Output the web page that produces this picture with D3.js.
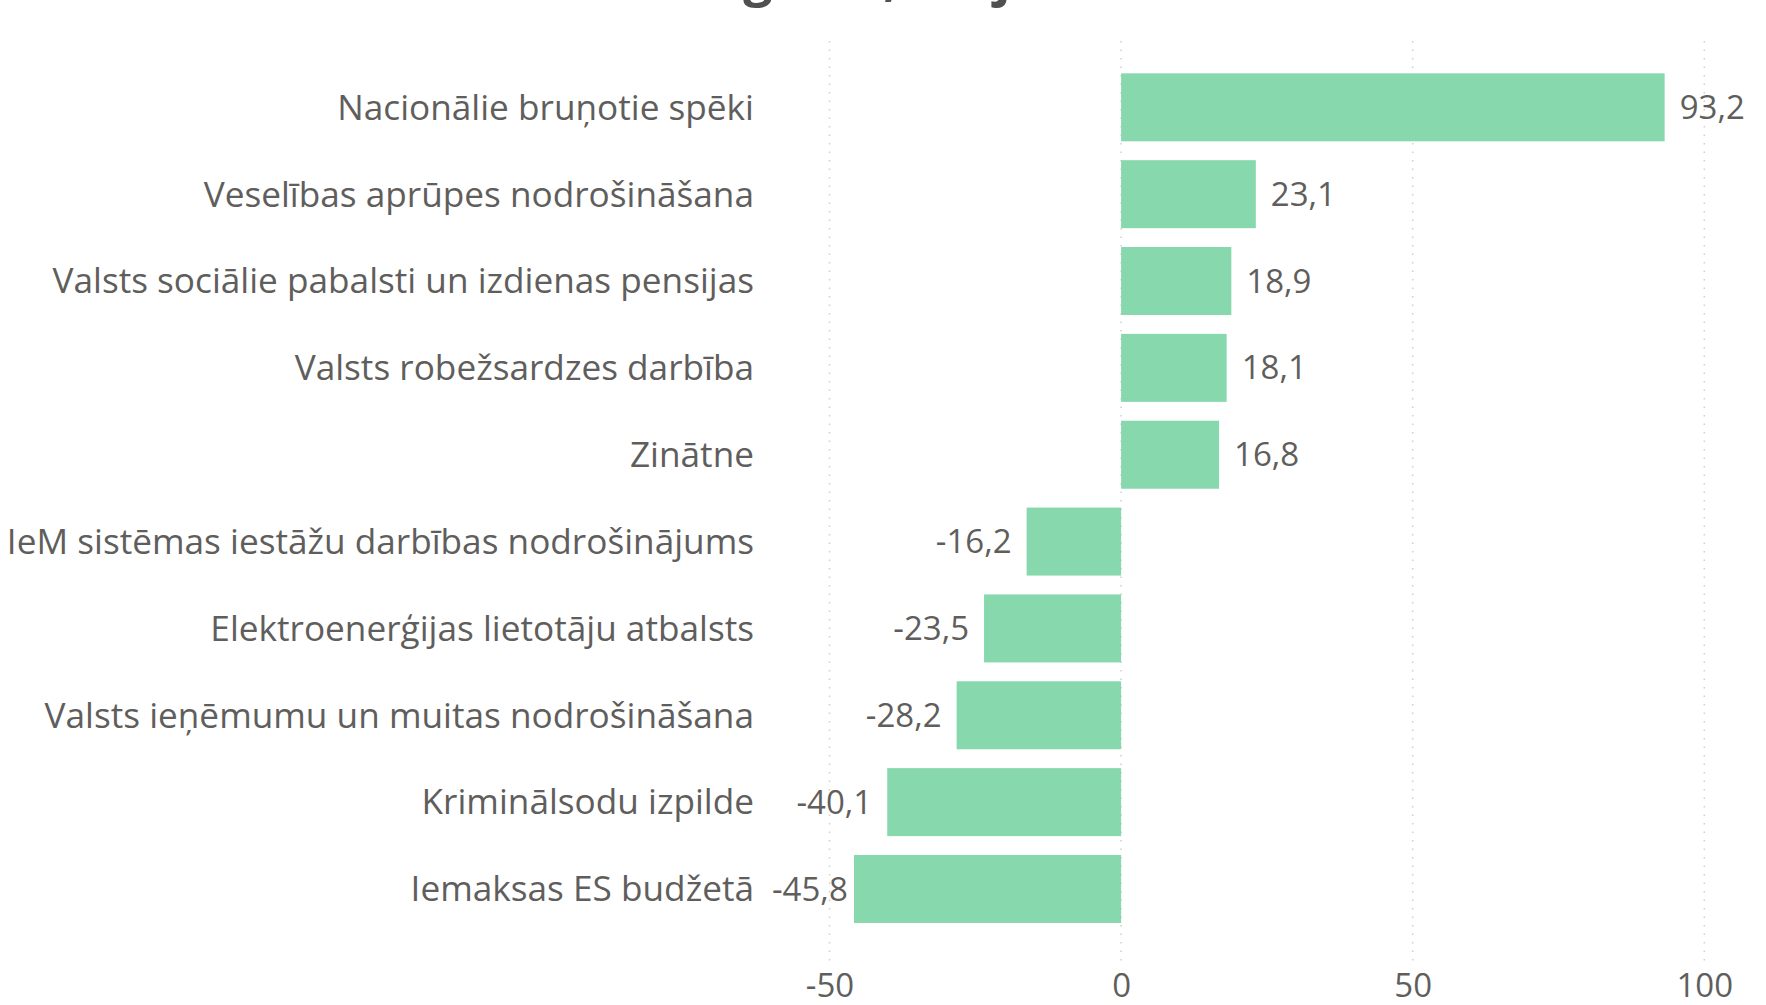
<!DOCTYPE html>
<html><head><meta charset="utf-8">
<script src="https://cdn.jsdelivr.net/npm/d3@7/dist/d3.min.js"></script>
<style>
html,body{margin:0;padding:0;background:#fff;}
svg{display:block;}
</style></head>
<body>
<svg id="chart" width="1766" height="1005"></svg>
<script>
const categories = [
  "Nacionālie bruņotie spēki",
  "Veselības aprūpes nodrošināšana",
  "Valsts sociālie pabalsti un izdienas pensijas",
  "Valsts robežsardzes darbība",
  "Zinātne",
  "IeM sistēmas iestāžu darbības nodrošinājums",
  "Elektroenerģijas lietotāju atbalsts",
  "Valsts ieņēmumu un muitas nodrošināšana",
  "Kriminālsodu izpilde",
  "Iemaksas ES budžetā"
];
const values = [93.2, 23.1, 18.9, 18.1, 16.8, -16.2, -23.5, -28.2, -40.1, -45.8];
const tickValues = [-50, 0, 50, 100];
const titleText = "Pieaugums, milj. EUR";

const svg = d3.select("#chart");
const FONT = "'Segoe UI','Open Sans','Noto Sans',sans-serif";
const textColor = "#605E5C";

const x = d3.scaleLinear().domain([-50, 100]).range([829.5, 1704.3]);
const y = d3.scaleBand().domain(categories).range([63.9, 932.4])
  .paddingInner(0.217).paddingOuter(0.1085);

// title (cut off at top)
svg.append("text")
  .attr("x", 870).attr("y", -5)
  .attr("text-anchor", "middle")
  .attr("font-family", FONT).attr("font-weight", 700)
  .attr("font-size", 52).attr("fill", "#505050")
  .text(titleText);

// gridlines
svg.append("g").selectAll("line").data(tickValues).join("line")
  .attr("x1", d => x(d)).attr("x2", d => x(d))
  .attr("y1", 41).attr("y2", 962)
  .attr("stroke", "#cfcfcf").attr("stroke-width", 1.5)
  .attr("stroke-dasharray", "1.5,7");

// x axis tick labels
const xAxis = d3.axisBottom(x).tickValues(tickValues).tickSize(0).tickPadding(0)
  .tickFormat(d => d3.format("d")(d).replace("−", "-"));
const gx = svg.append("g").call(xAxis);
gx.select(".domain").remove();
gx.selectAll("text")
  .attr("y", 997).attr("dy", null)
  .attr("font-family", FONT).attr("font-size", 33).attr("fill", textColor);

// bars
svg.append("g").selectAll("rect").data(values).join("rect")
  .attr("x", d => x(Math.min(0, d)))
  .attr("width", d => Math.abs(x(d) - x(0)))
  .attr("y", (d, i) => y(categories[i]))
  .attr("height", y.bandwidth())
  .attr("fill", "#88D8AE");

// category labels
const yAxis = d3.axisLeft(y).tickSize(0).tickPadding(0);
const gy = svg.append("g").attr("transform", "translate(754,0)").call(yAxis);
gy.select(".domain").remove();
gy.selectAll("text")
  .attr("x", 0).attr("dy", "0.35em")
  .attr("font-family", FONT).attr("font-size", 35.2).attr("fill", textColor);

// value labels
const fmt = d => d3.format(".1f")(d).replace(".", ",").replace("−", "-");
const minLeft = 772;
svg.append("g").selectAll("text").data(values).join("text")
  .attr("y", (d, i) => y(categories[i]) + y.bandwidth() / 2)
  .attr("dy", "0.35em")
  .attr("font-family", FONT).attr("font-size", 33).attr("fill", textColor)
  .attr("text-anchor", "start")
  .text(fmt)
  .each(function(d) {
    const w = this.getComputedTextLength();
    let xs;
    if (d >= 0) xs = x(d) + 15;
    else xs = Math.max(x(d) - 15 - w, minLeft);
    d3.select(this).attr("x", xs);
  });
</script>
</body></html>
